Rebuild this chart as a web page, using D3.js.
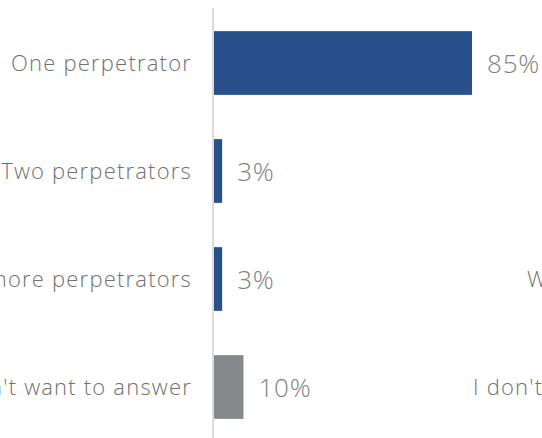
<!DOCTYPE html>
<html>
<head>
<meta charset="utf-8">
<script src="https://cdn.jsdelivr.net/npm/d3@7"></script>
<style>
  html, body { margin: 0; padding: 0; background: #ffffff; }
  svg { display: block; }
  text { font-family: "Open Sans", "DejaVu Sans", sans-serif; font-weight: 300; }
</style>
</head>
<body>
<div id="chart"></div>
<script>
// Number of perpetrators, share of answers
const categories = ["One perpetrator", "Two perpetrators", "Three or more perpetrators", "I don't want to answer"];
const values = [85, 3, 3, 10];
const barColors = ["#28508a", "#28508a", "#28508a", "#85898c"];
// Category labels of the neighbouring panel, partly visible at the right edge
const sideLabels = ["", "", "W", "I don't"];

const width = 542, height = 438;
const axisX = 213;

const svg = d3.select("#chart").append("svg")
  .attr("width", width).attr("height", height);

const x = d3.scaleLinear().domain([0, 85]).range([axisX, 472]);
const y = d3.scaleBand().domain(categories).range([9, 441]).paddingInner(0.41).paddingOuter(0.205);

// bars
svg.selectAll("rect.bar").data(values).join("rect")
  .attr("class", "bar")
  .attr("x", x(0))
  .attr("y", (d, i) => y(categories[i]))
  .attr("width", d => x(d) - x(0))
  .attr("height", y.bandwidth())
  .attr("fill", (d, i) => barColors[i]);

// vertical baseline
svg.append("line")
  .attr("x1", axisX).attr("x2", axisX)
  .attr("y1", 8).attr("y2", height)
  .attr("stroke", "#dcdcdc").attr("stroke-width", 2);

// category labels
svg.selectAll("text.cat").data(categories).join("text")
  .attr("class", "cat")
  .attr("x", 192)
  .attr("y", d => y(d) + y.bandwidth() / 2)
  .attr("dy", "0.36em")
  .attr("text-anchor", "end")
  .attr("fill", "#707070")
  .attr("font-size", 22)
  .attr("letter-spacing", 1.2)
  .text(d => d);

// value labels
svg.selectAll("text.val").data(values).join("text")
  .attr("class", "val")
  .attr("x", d => x(d) + 15)
  .attr("y", (d, i) => y(categories[i]) + y.bandwidth() / 2)
  .attr("dy", "0.37em")
  .attr("fill", "#7f7f7f")
  .attr("font-size", 26)
  .attr("letter-spacing", 0.8)
  .text(d => d + "%");

// labels of the adjacent panel
svg.selectAll("text.side").data(sideLabels).join("text")
  .attr("class", "side")
  .attr("x", (d, i) => i === 2 ? 527 : 473)
  .attr("y", (d, i) => y(categories[i]) + y.bandwidth() / 2)
  .attr("dy", "0.36em")
  .attr("fill", "#707070")
  .attr("font-size", 22)
  .attr("letter-spacing", 1.2)
  .text(d => d);
</script>
</body>
</html>
